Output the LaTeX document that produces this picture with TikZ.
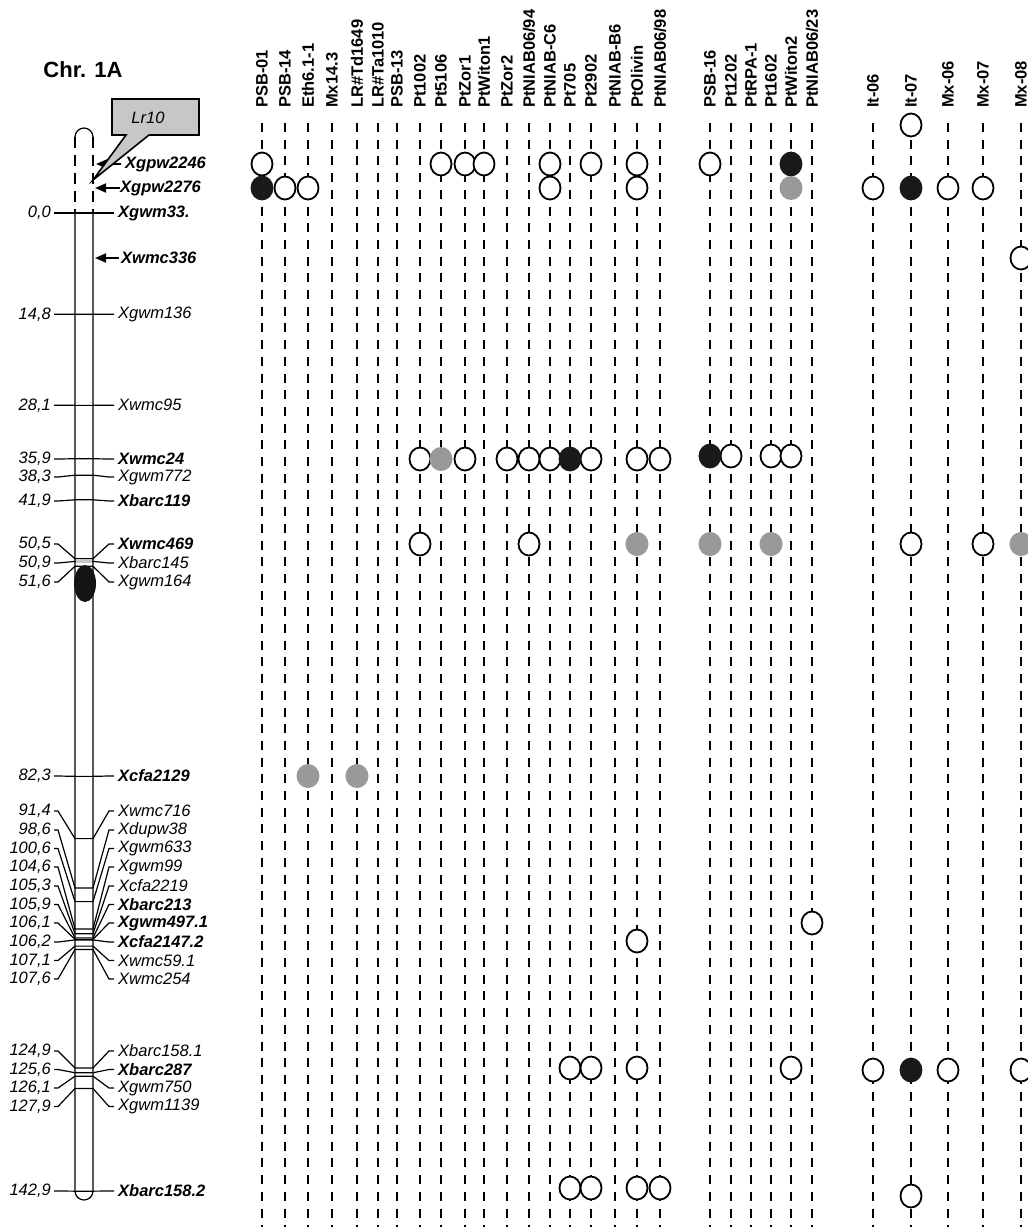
\documentclass[tikz,border=0pt]{standalone}
\usepackage{fontspec}
\setmainfont{Liberation Sans}
\usepackage{tikz}
\usetikzlibrary{arrows.meta}

\begin{document}
\begin{tikzpicture}[x=1pt, y=-1pt,
      lbl/.style={font=\fontsize{16.5}{19}\selectfont\bfseries, rotate=90,
                  anchor=west, inner sep=0pt},
      mk/.style={font=\fontsize{16.5}{19}\selectfont\itshape, anchor=west, inner sep=0pt},
      num/.style={font=\fontsize{16.5}{19}\selectfont\itshape, anchor=east, inner sep=0pt},
      colline/.style={line width=2.2pt, dash pattern=on 9pt off 7.7pt},
      chr/.style={line width=1.2pt},
      chrdash/.style={line width=2pt, dash pattern=on 11pt off 7pt},
      mline/.style={line width=1.2pt},
      mkarrow/.style={line width=1.8pt, -{Triangle[length=11pt, width=9pt]}},
      opn/.style={draw, line width=1.8pt, fill=white},
      blk/.style={draw=black!90, line width=1.8pt, fill=black!90},
      gry/.style={fill=black!40}]

    \useasboundingbox (0,0) rectangle (1028,1227);
    \clip (0,0) rectangle (1028,1227);

    % --- title ---
    \node[font=\fontsize{22}{26}\selectfont\bfseries, inner sep=0pt] (title) at (83,70) {Chr. 1A};

    % --- isolate columns: label on top, dashed line down ---
    \foreach \x/\lab [count=\c] in {262/PSB-01, 285/PSB-14, 308/Eth6.1-1, 332/Mx14.3,
        357/LR\#Td1649, 378/LR\#Ta1010, 397/PSB-13, 420/Pt1002, 441/Pt5106, 465/PtZor1,
        484/PtWiton1, 507/PtZor2, 529/{PtNIAB06/94}, 550/PtNIAB-C6, 570/Pt705, 591/Pt2902,
        615/PtNIAB-B6, 637/PtOlivin, 660/{PtNIAB06/98},
        710/PSB-16, 731/Pt1202, 751/PtRPA-1, 771/Pt1602, 791/PtWiton2, 812/{PtNIAB06/23},
        873/It-06, 911/It-07, 948/Mx-06, 983/Mx-07, 1021/Mx-08} {
      \node[lbl] (col\c) at (\x,108) {\lab};
      \draw[colline] (col\c.west) ++(0,15) -- ++(0,1120);
    }

    % --- mapped markers: position, label row ---
    \foreach \p/\ly/\num/\mk [count=\i] in {
        0/213/{0,0}/{\bfseries Xgwm33.},
        14.8/314.3/{14,8}/Xgwm136,
        28.1/405.3/{28,1}/Xwmc95,
        35.9/459/{35,9}/{\bfseries Xwmc24},
        38.3/477/{38,3}/Xgwm772,
        41.9/501/{41,9}/{\bfseries Xbarc119},
        50.5/544/{50,5}/{\bfseries Xwmc469},
        50.9/563/{50,9}/Xbarc145,
        51.6/582/{51,6}/Xgwm164,
        82.3/776/{82,3}/{\bfseries Xcfa2129},
        91.4/811/{91,4}/Xwmc716,
        98.6/830/{98,6}/Xdupw38,
        100.6/848.5/{100,6}/Xgwm633,
        104.6/867/{104,6}/Xgwm99,
        105.3/886/{105,3}/Xcfa2219,
        105.9/904.5/{105,9}/{\bfseries Xbarc213},
        106.1/923/{106,1}/{\bfseries Xgwm497.1},
        106.2/942/{106,2}/{\bfseries Xcfa2147.2},
        107.1/960.5/{107,1}/Xwmc59.1,
        107.6/979/{107,6}/Xwmc254,
        124.9/1051/{124,9}/Xbarc158.1,
        125.6/1069.5/{125,6}/{\bfseries Xbarc287},
        126.1/1088/{126,1}/Xgwm750,
        127.9/1106.5/{127,9}/Xgwm1139,
        142.9/1191/{142,9}/{\bfseries Xbarc158.2}} {
      \pgfmathsetmacro\cy{213+6.845*\p}
      \node[num] (num\i) at (51,\ly) {\num};
      \node[mk] (mk\i) at (118,\ly) {\mk};
      \draw[mline] ([xshift=3pt]num\i.east) -- ++(4,0) -- (75,\cy) -- (93,\cy)
          -- (109,\ly) -- ([xshift=-4pt]mk\i.west);
    }

    % --- unmapped markers with arrows ---
    \node[mk] (mkA) at (125,164) {\bfseries Xgpw2246};
    \node[mk] (mkB) at (120,188) {\bfseries Xgpw2276};
    \node[mk] (mkC) at (121,258) {\bfseries Xwmc336};
    \coordinate (tipA) at (96,164);
    \coordinate (tipB) at (95,188);
    \coordinate (tipC) at (95,258);
    \draw[mkarrow] ([xshift=-4pt]mkA.west) -- (tipA);
    \draw[mkarrow] (mkB.west) -- (tipB);
    \draw[mkarrow] ([xshift=-2pt]mkC.west) -- (tipC);

    % --- chromosome ---
    \draw[chrdash] (75,137) -- (75,213);
    \draw[chrdash] (93,137) -- (93,213);
    \draw[chr] (75,137) arc[start angle=180, end angle=360, radius=9];
    \draw[chr] (75,213) -- (75,1191) arc[start angle=180, end angle=0, radius=9] -- (93,213);
    \fill[black!22] (75.6,558.7) rectangle (92.4,562.6);
    \draw[mline] (75,558.7) -- (93,558.7);
    \fill[black!92] (85,583.5) ellipse [x radius=11, y radius=18.5];

    % --- Lr10 callout ---
    \draw[line width=1.6pt, fill=black!22, line join=miter]
        (112,99) -- (199,99) -- (199,135) -- (149,135) -- (93,180) -- (126,135)
        -- (112,135) -- cycle;
    \node[font=\fontsize{16.5}{19}\selectfont\itshape, inner sep=0pt] (lr) at (148,118) {Lr10};

    % --- reactions: open = resistant, black, gray ---
    \foreach \x/\y in {262/164, 441/164, 465/164, 484/164, 550/164, 591/164, 637/164, 710/164,
        911/125, 285/188, 308/188, 550/188, 637/188, 873/188, 948/188, 983/188,
        1021/258,
        420/459, 465/459, 507/459, 529/459, 550/459, 591/459, 637/459, 660/459,
        731/456, 771/456, 791/456,
        420/544, 529/544, 911/544, 983/544,
        812/923, 637/941,
        570/1068, 591/1068, 637/1068, 791/1068, 873/1070, 948/1070, 1021/1070,
        570/1188, 591/1188, 637/1188, 660/1188, 911/1196}
      \path[opn] (\x,\y) ellipse [x radius=10.5, y radius=11.5];

    \foreach \x/\y in {791/164, 262/188, 911/188, 570/459, 710/456, 911/1070}
      \path[blk] (\x,\y) ellipse [x radius=10.5, y radius=11.5];

    \foreach \x/\y in {791/188, 441/459, 637/544, 710/544, 771/544, 1021/544,
        308/776, 357/776}
      \path[gry] (\x,\y) ellipse [x radius=11.5, y radius=12];

\end{tikzpicture}
\end{document}
